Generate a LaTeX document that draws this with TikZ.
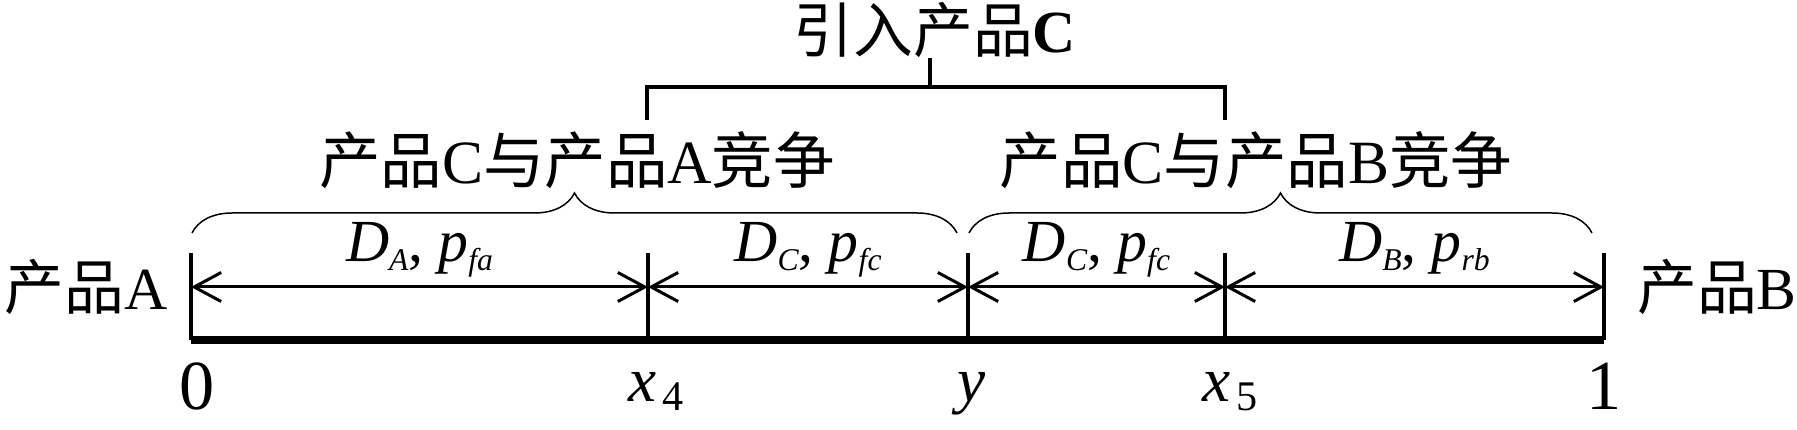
\documentclass[tikz,border=0pt]{standalone}
\usepackage{fontspec}
\setmainfont{Liberation Serif}
\newfontfamily\cjk{Noto Sans CJK SC}
\usetikzlibrary{arrows.meta,decorations.pathreplacing}
\newcommand{\sbs}[1]{\raisebox{-2.5pt}{\fontsize{9}{9}\selectfont\textit{#1}}}
\newcommand{\seglab}[4]{\textit{#1}\sbs{#2}, \textit{#3}\sbs{#4}}
\newcommand{\ptlab}[2]{\textit{#1}\kern1.5pt\raisebox{-2.3pt}{\fontsize{12}{12}\selectfont #2}}

\begin{document}
\begin{tikzpicture}[font=\fontsize{17}{20}\selectfont,
	axis/.style={line width=0.08cm},
	tick/.style={line width=0.037cm},
	dim/.style={line width=0.03cm,{Straight Barb[length=0.27cm,width=0.29cm]}-{Straight Barb[length=0.27cm,width=0.29cm]}},
	brc/.style={line width=0.015cm,decorate,decoration={brace,amplitude=0.4cm}},
	big/.style={font=\fontsize{17.5}{20}\selectfont}]

\useasboundingbox (0,0) rectangle (17.97,4.30);

\begin{scope}

\foreach \n/\x in {p0/1.91,p4/6.48,py/9.68,p5/12.25,p1/16.04}
{
	\coordinate (\n) at (\x,0.90);
	\coordinate (\n m) at (\x,1.43);
	\coordinate (\n t) at (\x,1.77);
	\draw[tick] (\n) -- (\n t);
}
\draw[axis] (p0) -- (p1);

\foreach \a/\b/\d/\s/\q/\r in {p0/p4/D/A/p/fa,p4/py/D/C/p/fc,py/p5/D/C/p/fc,p5/p1/D/B/p/rb}
{
	\draw[dim] (\a m) -- (\b m) node[midway,anchor=base,yshift=0.25cm] (lab\a) {\seglab{\d}{\s}{\q}{\r}};
}

\node[anchor=base,font=\fontsize{20}{20}\selectfont] (l0) at (1.97,0.20) {0};
\node[anchor=base,font=\fontsize{18}{20}\selectfont] (l4) at (6.56,0.28) {\ptlab{x}{4}};
\node[anchor=base,font=\fontsize{18}{20}\selectfont] (ly) at (9.72,0.28) {\textit{y}};
\node[anchor=base,font=\fontsize{18}{20}\selectfont] (l5) at (12.30,0.28) {\ptlab{x}{5}};
\node[anchor=base,font=\fontsize{20}{20}\selectfont] (l1) at (16.04,0.20) {1};

\node (prodA) at (0.86,1.43) {{\cjk 产品}A};
\node (prodB) at (17.17,1.43) {{\cjk 产品}B};

\end{scope}

\begin{scope}

\draw[brc] (1.92,1.97) coordinate (bA1) -- (9.57,1.97) coordinate (bA2);
\draw[brc] (9.69,1.97) coordinate (bB1) -- (15.92,1.97) coordinate (bB2);

\node[big] (compA) at (5.77,2.70) {{\cjk 产品}C{\cjk 与产品}A{\cjk 竞争}};
\node[big] (compB) at (12.56,2.70) {{\cjk 产品}C{\cjk 与产品}B{\cjk 竞争}};

\coordinate (kL) at (6.47,3.10);
\coordinate (kR) at (12.25,3.10);
\coordinate (kM) at (9.30,3.43);
\draw[tick] (kL) -- ++(0,0.33) -| (kR);
\draw[tick] (kM) -- ++(0,0.29);

\node (intro) at (9.35,4.00) {{\cjk 引入产品}\textbf{C}};

\end{scope}

\end{tikzpicture}
\end{document}
